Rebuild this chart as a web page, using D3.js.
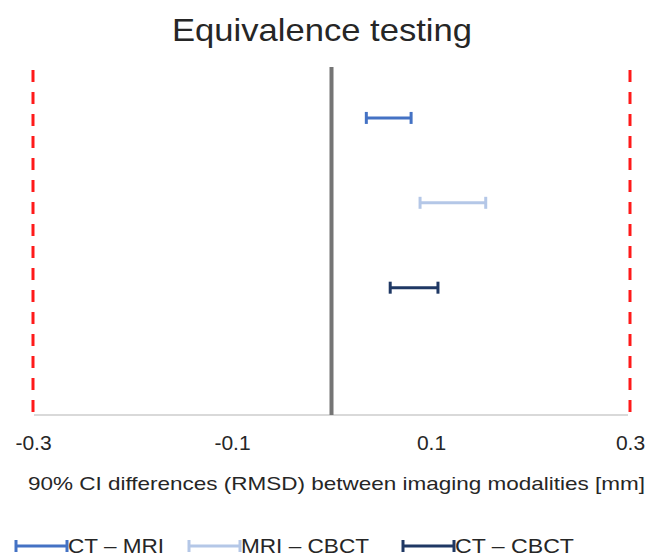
<!DOCTYPE html>
<meta charset="utf-8">
<style>
    body { margin: 0; background: #fff; }
    text { font-family: "Liberation Sans", Arial, sans-serif; fill: #262626; }
</style>
<script src="https://d3js.org/d3.v7.min.js"></script>
<div id="chart"></div>
<script>
// data
const series = ["CT \u2013 MRI", "MRI \u2013 CBCT", "CT \u2013 CBCT"];
const lower = [0.035, 0.089, 0.059];
const upper = [0.080, 0.155, 0.107];
const rowPos = [3.5, 2.5, 1.5];
const tickValues = [-0.3, -0.1, 0.1, 0.3];
const margins = [-0.3, 0.3];
const colors = ["#4472c4", "#b4c7e7", "#1f3864"];

const W = 658, H = 555;
const svg = d3.select("#chart").append("svg")
    .attr("width", W).attr("height", H);

const x = d3.scaleLinear().domain([-0.3, 0.3]).range([33, 630]);
const y = d3.scaleLinear().domain([0, 4.1]).range([415, 67]);

// title (reference text is a bit wider than Liberation, so stretch it)
svg.append("text").attr("x", 172).attr("y", 41)
    .attr("textLength", 300).attr("lengthAdjust", "spacingAndGlyphs")
    .style("font-size", "32px")
    .text("Equivalence testing");

// axis baseline
svg.append("line")
    .attr("x1", x(-0.3) + 1).attr("x2", x(0.3) - 2)
    .attr("y1", y(0)).attr("y2", y(0))
    .style("stroke", "#d9d9d9").style("stroke-width", 2);

// tick labels
const xAxis = d3.axisBottom(x).tickValues(tickValues).tickSize(0).tickPadding(0)
    .tickFormat(d => d3.format(".1f")(d).replace("\u2212", "-"));
const gx = svg.append("g").attr("transform", `translate(0, ${y(0)})`).call(xAxis);
gx.select(".domain").remove();
gx.selectAll("text").attr("y", 35).attr("dy", null)
    .style("font-size", "21px").style("font-family", '"Liberation Sans", Arial, sans-serif')
    .attr("fill", "#262626");

// axis title
svg.append("text").attr("x", 28).attr("y", 490)
    .attr("textLength", 617).attr("lengthAdjust", "spacingAndGlyphs")
    .style("font-size", "19px")
    .text("90% CI differences (RMSD) between imaging modalities [mm]");

// equivalence margins
svg.selectAll(".margin").data(margins).join("line")
    .attr("class", "margin")
    .attr("x1", d => x(d)).attr("x2", d => x(d))
    .attr("y1", y(4.1) + 3).attr("y2", y(0) - 3)
    .style("stroke", "#ff1a1a").style("stroke-width", 3)
    .style("stroke-dasharray", "12,10");

// zero line
svg.append("line")
    .attr("x1", x(0)).attr("x2", x(0))
    .attr("y1", y(4.1)).attr("y2", y(0))
    .style("stroke", "#757575").style("stroke-width", 4);

// confidence intervals
const ci = svg.append("g").selectAll("g").data(series).join("g")
    .style("stroke", (d, i) => colors[i]).style("stroke-width", 3);
ci.append("line")
    .attr("x1", (d, i) => x(lower[i])).attr("x2", (d, i) => x(upper[i]))
    .attr("y1", (d, i) => y(rowPos[i])).attr("y2", (d, i) => y(rowPos[i]));
ci.append("line")
    .attr("x1", (d, i) => x(lower[i])).attr("x2", (d, i) => x(lower[i]))
    .attr("y1", (d, i) => y(rowPos[i]) - 6).attr("y2", (d, i) => y(rowPos[i]) + 6);
ci.append("line")
    .attr("x1", (d, i) => x(upper[i])).attr("x2", (d, i) => x(upper[i]))
    .attr("y1", (d, i) => y(rowPos[i]) - 6).attr("y2", (d, i) => y(rowPos[i]) + 6);

// legend
const legX = [16, 189, 403];
const legW = [96, 128, 119];
const leg = svg.append("g").selectAll("g").data(series).join("g")
    .attr("transform", (d, i) => `translate(${legX[i]}, 546)`);
leg.append("line").attr("x1", 0).attr("x2", 51).attr("y1", 0).attr("y2", 0)
    .style("stroke", (d, i) => colors[i]).style("stroke-width", 3);
leg.append("line").attr("x1", 0).attr("x2", 0).attr("y1", -6).attr("y2", 6)
    .style("stroke", (d, i) => colors[i]).style("stroke-width", 3);
leg.append("line").attr("x1", 51).attr("x2", 51).attr("y1", -6).attr("y2", 6)
    .style("stroke", (d, i) => colors[i]).style("stroke-width", 3);
leg.append("text").attr("x", 52).attr("y", 7)
    .attr("textLength", (d, i) => legW[i]).attr("lengthAdjust", "spacingAndGlyphs")
    .style("font-size", "21px").text(d => d);
</script>
